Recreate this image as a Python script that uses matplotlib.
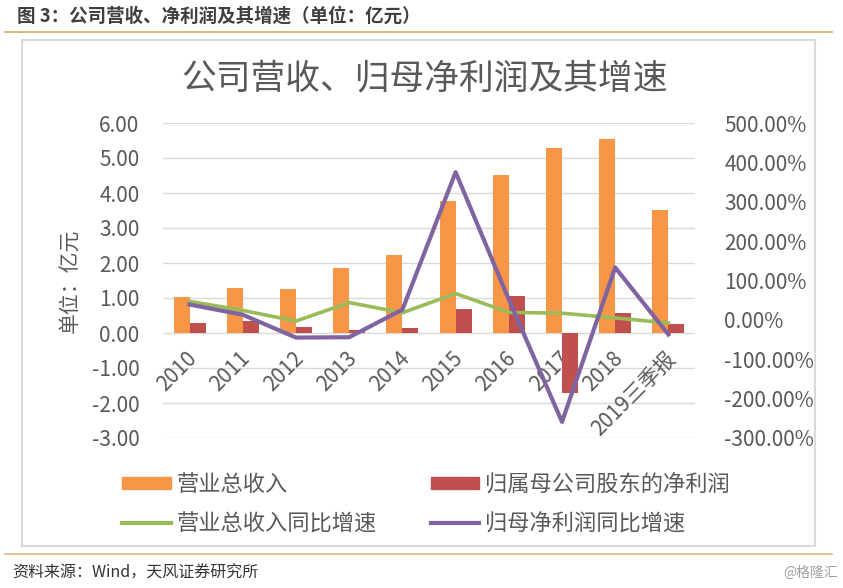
import numpy as np
import matplotlib
matplotlib.use("Agg")
import matplotlib.pyplot as plt
from matplotlib.patches import Patch, Rectangle
from matplotlib.lines import Line2D

plt.rcParams['font.family'] = ['Noto Sans CJK SC', 'DejaVu Sans']

# data
years = ['2010', '2011', '2012', '2013', '2014', '2015', '2016', '2017', '2018', '2019三季报']
revenue = [1.03, 1.29, 1.27, 1.86, 2.23, 3.77, 4.52, 5.30, 5.55, 3.52]
net_profit = [0.30, 0.33, 0.18, 0.08, 0.15, 0.70, 1.07, -1.72, 0.58, 0.25]
revenue_yoy = [47, 24, -3, 44, 18, 67, 19, 17, 5, -8]
profit_yoy = [39, 13, -45, -44, 26, 375, 52, -259, 133, -37]

c_orange = '#F79646'
c_red = '#C0504D'
c_green = '#9BBB59'
c_purple = '#8064A2'
c_text = '#595959'
c_grid = '#D9D9D9'

W, H = 843, 588
fig = plt.figure(figsize=(W / 100, H / 100), dpi=100)

def fx(px):
    return px / W

def fy(py):
    return 1 - py / H

# header / footer
fig.text(fx(17), fy(16), '图 3：公司营收、净利润及其增速（单位：亿元）', fontsize=13.3,
         fontweight='bold', color='#3F3F3F', va='center', ha='left')
fig.add_artist(Line2D([fx(5), fx(832)], [fy(32), fy(32)], color='#D6A86C', lw=1.2))
fig.add_artist(Line2D([fx(5), fx(832)], [fy(554), fy(554)], color='#E3B77E', lw=1.2))
fig.text(fx(12), fy(573), '资料来源：Wind，天风证券研究所', fontsize=11.5, color='#333333',
         va='center', ha='left')
fig.text(fx(838), fy(573), '@格隆汇', fontsize=10, color='#A0A0A0', va='center', ha='right')
fig.add_artist(Rectangle((fx(22), fy(546)), fx(815) - fx(22), fy(40) - fy(546),
                         fill=False, edgecolor=c_grid, lw=1.5))

# chart title
fig.text(fx(424), fy(79), '公司营收、归母净利润及其增速', fontsize=25, color=c_text,
         ha='center', va='center')

ax = fig.add_axes([fx(163), fy(438), fx(695) - fx(163), fy(123) - fy(438)])
x = np.arange(len(years))
bw = 0.3
ax.bar(x - bw / 2, revenue, bw, color=c_orange, zorder=3)
ax.bar(x + bw / 2, net_profit, bw, color=c_red, zorder=3)
ax.set_xlim(-0.5, len(years) - 0.5)
ax.set_ylim(-3, 6)
ax.set_yticks(np.arange(-3, 7, 1))
ax.set_yticklabels(['{:.2f}'.format(v) for v in np.arange(-3, 7, 1)])
ax.set_xticks([])
ax.grid(axis='y', color=c_grid, lw=1, zorder=0)
ax.set_axisbelow(True)
ax.tick_params(axis='y', length=0, labelsize=15, labelcolor=c_text, pad=17)
for s in ax.spines.values():
    s.set_visible(False)
ax.set_ylabel('单位：亿元', fontsize=15, color=c_text, labelpad=8)

for i, lab in enumerate(years):
    ax.annotate(lab, xy=(i, 0), xytext=(3, -16), textcoords='offset points',
                rotation=45, rotation_mode='anchor', ha='right', va='center',
                fontsize=15, color=c_text, zorder=1)

ax2 = ax.twinx()
ax2.plot(x, revenue_yoy, color=c_green, lw=2.6, solid_joinstyle='round')
ax2.plot(x, profit_yoy, color=c_purple, lw=3, solid_joinstyle='round')
ax2.set_ylim(-300, 500)
ax2.set_yticks(np.arange(-300, 600, 100))
ax2.set_yticklabels(['{:.2f}%'.format(v) for v in np.arange(-300, 600, 100)])
ax2.tick_params(axis='y', length=0, labelsize=15, labelcolor=c_text, pad=21)
for s in ax2.spines.values():
    s.set_visible(False)

# legend, filled column by column
handles = [Patch(color=c_orange), Line2D([], [], color=c_green, lw=3),
           Patch(color=c_red), Line2D([], [], color=c_purple, lw=3)]
labels = ['营业总收入', '营业总收入同比增速', '归属母公司股东的净利润', '归母净利润同比增速']
fig.legend(handles, labels, loc='upper left', bbox_to_anchor=(fx(111), fy(462)),
           ncol=2, frameon=False, fontsize=16, labelcolor=c_text, borderpad=0,
           handlelength=2.2, handleheight=0.45, handletextpad=0.27,
           columnspacing=2.4, labelspacing=0.72)

fig.savefig('out.png', dpi=100)
